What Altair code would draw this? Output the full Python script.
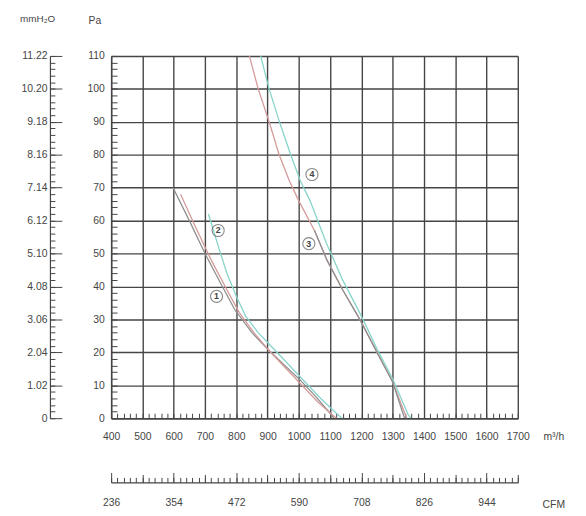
import altair as alt
import pandas as pd

# ---------------- data ----------------
flow_ticks = list(range(400, 1701, 100))
flow_minor = list(range(400, 1701, 20))
pa_ticks = list(range(0, 111, 10))
pa_minor = list(range(0, 111, 2))
mm_labels = ["0", "1.02", "2.04", "3.06", "4.08", "5.10", "6.12", "7.14", "8.16", "9.18", "10.20", "11.22"]
cfm_pos = [400, 600, 800, 1000, 1200, 1400, 1600]
cfm_labels = ["236", "354", "472", "590", "708", "826", "944"]
cfm_mid = [500, 700, 900, 1100, 1300, 1500, 1700]

gray_lo_q = [598, 650, 700, 750, 795, 850, 900, 950, 1000, 1050, 1100, 1112]
gray_lo_p = [70, 60, 50, 41, 33, 26, 21, 16.5, 12, 7, 1.5, 0]
red_lo_q = [622, 670, 720, 770, 810, 860, 910, 960, 1010, 1060, 1110, 1120]
red_lo_p = [68, 58, 48, 39, 32, 25.5, 20, 15, 10, 5, 0.8, 0]
cyan_lo_q = [711, 740, 770, 800, 830, 870, 920, 970, 1020, 1070, 1120, 1138]
cyan_lo_p = [62, 53, 44, 37, 31, 26, 21, 16, 11, 6, 1.5, 0]
red_up_q = [842, 870, 905, 937, 970, 1000, 1050, 1090, 1140, 1195, 1250, 1300, 1345]
red_up_p = [110, 100, 90, 80, 72, 66, 57, 48, 39, 30, 20, 11, 0]
cyan_up_q = [878, 905, 938, 974, 1005, 1036, 1089, 1140, 1200, 1250, 1300, 1350, 1358]
cyan_up_p = [110, 100, 90, 80, 72, 66, 53, 42, 31, 21, 12, 1, 0]
gray_up_q = [1050, 1090, 1140, 1195, 1250, 1300, 1338]
gray_up_p = [57, 48, 39, 30, 20, 11, 0]

curve_names = ["gray_lo", "red_lo", "cyan_lo", "red_up", "cyan_up", "gray_up"]
curve_colors = ["#8f8f8f", "#d49a9a", "#86d4ca", "#d49a9a", "#86d4ca", "#8f8f8f"]
curve_data = [(gray_lo_q, gray_lo_p), (red_lo_q, red_lo_p), (cyan_lo_q, cyan_lo_p),
              (red_up_q, red_up_p), (cyan_up_q, cyan_up_p), (gray_up_q, gray_up_p)]

label_text = ["1", "2", "3", "4"]
label_q = [737, 742, 1032, 1042]
label_p = [37, 57, 53, 74]

rows = []
for name, (qs, ps) in zip(curve_names, curve_data):
    for i, (q, p) in enumerate(zip(qs, ps)):
        rows.append({"curve": name, "flow": q, "pa": p, "i": i})
df = pd.DataFrame(rows)
lab = pd.DataFrame({"t": label_text, "flow": label_q, "pa": label_p})

# ---------------- scales / helpers ----------------
XS = alt.Scale(domain=[400, 1700], nice=False, zero=False)
YS = alt.Scale(domain=[0, 110], nice=False, zero=False)
INK = "#454545"
FONT = "Liberation Sans"

mm_expr = "[" + ",".join("'" + s + "'" for s in mm_labels) + "][indexof([" + \
    ",".join(str(v) for v in pa_ticks) + "], datum.value)]"
cfm_expr = "[" + ",".join("'" + s + "'" for s in cfm_labels) + "][indexof([" + \
    ",".join(str(v) for v in cfm_pos) + "], datum.value)]"


def tick_axis(orient, values, offset, size):
    return alt.Axis(orient=orient, values=values, offset=offset, tickSize=size,
                    labels=False, domain=False, grid=False, title=None,
                    tickColor=INK, tickWidth=1)


# main layer: curves + main axes with grid
lines = alt.Chart(df).mark_line(strokeWidth=1.3, clip=True).encode(
    x=alt.X("flow:Q", scale=XS, axis=alt.Axis(
        orient="bottom", values=flow_ticks, format="d", grid=True, gridColor=INK,
        gridWidth=1.4, ticks=False, domain=True, domainColor=INK, domainWidth=1.4,
        labelOverlap=False, labelFlush=False,
        labelPadding=14, labelFontSize=10.5, labelFont=FONT, labelColor=INK,
        title="m³/h", titleX=448, titleY=19, titleAlign="center", titleBaseline="middle",
        titleFontWeight="normal", titleFont=FONT, titleFontSize=10.5, titleColor=INK)),
    y=alt.Y("pa:Q", scale=YS, axis=alt.Axis(
        orient="left", values=pa_ticks, format="d", grid=True, gridColor=INK,
        gridWidth=1.4, ticks=False, domain=True, domainColor=INK, domainWidth=1.4,
        labelOverlap=False, labelFlush=False,
        labelPadding=7, labelFontSize=10.5, labelFont=FONT, labelColor=INK,
        title="Pa", titleAngle=0, titleX=-17, titleY=-36, titleAlign="center",
        titleBaseline="middle", titleFontWeight="normal", titleFont=FONT,
        titleFontSize=10.5, titleColor=INK)),
    color=alt.Color("curve:N", scale=alt.Scale(domain=curve_names, range=curve_colors), legend=None),
    order="i:Q",
)

# inner minor ticks (bottom + left)
inner = alt.Chart(lab).mark_point(opacity=0).encode(
    x=alt.X("flow:Q", scale=XS, axis=tick_axis("bottom", flow_minor, -5, 5)),
    y=alt.Y("pa:Q", scale=YS, axis=tick_axis("left", pa_minor, -6, 6)),
)

# mmH2O axis line + labels, CFM axis line + labels (carry circles)
circles = alt.Chart(lab).mark_point(shape="circle", size=150, filled=False,
                                    stroke="#555555", strokeWidth=1.1).encode(
    x=alt.X("flow:Q", scale=XS, axis=alt.Axis(
        orient="bottom", values=cfm_pos, offset=65, ticks=False, domain=True,
        domainColor=INK, domainWidth=1.2, grid=False, labelExpr=cfm_expr,
        labelOverlap=False, labelFlush=False,
        labelPadding=15, labelFontSize=10.5, labelFont=FONT, labelColor=INK,
        title="CFM", titleX=448, titleY=22, titleAlign="center", titleBaseline="middle",
        titleFontWeight="normal", titleFont=FONT, titleFontSize=10.5, titleColor=INK)),
    y=alt.Y("pa:Q", scale=YS, axis=alt.Axis(
        orient="left", values=pa_ticks, offset=62, ticks=False, domain=True,
        domainColor=INK, domainWidth=1.2, grid=False, labelExpr=mm_expr,
        labelOverlap=False, labelFlush=False,
        labelPadding=3, labelFontSize=10.5, labelFont=FONT, labelColor=INK,
        title="mmH₂O", titleAngle=0, titleX=-13, titleY=-38, titleAlign="center",
        titleBaseline="middle", titleFontWeight="normal", titleFont=FONT,
        titleFontSize=10, titleColor=INK)),
)

# major ticks of outer axes (carry digits)
digits = alt.Chart(lab).mark_text(fontSize=9, font=FONT, color="#444444", fontWeight="bold").encode(
    x=alt.X("flow:Q", scale=XS, axis=tick_axis("bottom", cfm_pos, 55, 10)),
    y=alt.Y("pa:Q", scale=YS, axis=tick_axis("left", pa_ticks, 50, 12)),
    text="t:N",
)

# minor ticks of outer axes
outer_minor = alt.Chart(lab).mark_point(opacity=0).encode(
    x=alt.X("flow:Q", scale=XS, axis=tick_axis("bottom", flow_minor, 60, 5)),
    y=alt.Y("pa:Q", scale=YS, axis=tick_axis("left", pa_minor, 57, 5)),
)

# mid ticks of CFM axis
cfm_mid_layer = alt.Chart(lab).mark_point(opacity=0).encode(
    x=alt.X("flow:Q", scale=XS, axis=tick_axis("bottom", cfm_mid, 57, 8)),
    y=alt.Y("pa:Q", scale=YS, axis=None),
)

chart = alt.layer(lines, inner, circles, digits, outer_minor, cfm_mid_layer).resolve_scale(
    x="shared", y="shared"
).resolve_axis(
    x="independent", y="independent"
).properties(
    width=412, height=367,
    autosize=alt.AutoSizeParams(type="none"),
    padding={"left": 104.5, "top": 45.3, "right": 61, "bottom": 88},
    background="white",
).configure_view(stroke=None)

chart.save("out.html", embed_options={"renderer": "svg", "actions": False})
